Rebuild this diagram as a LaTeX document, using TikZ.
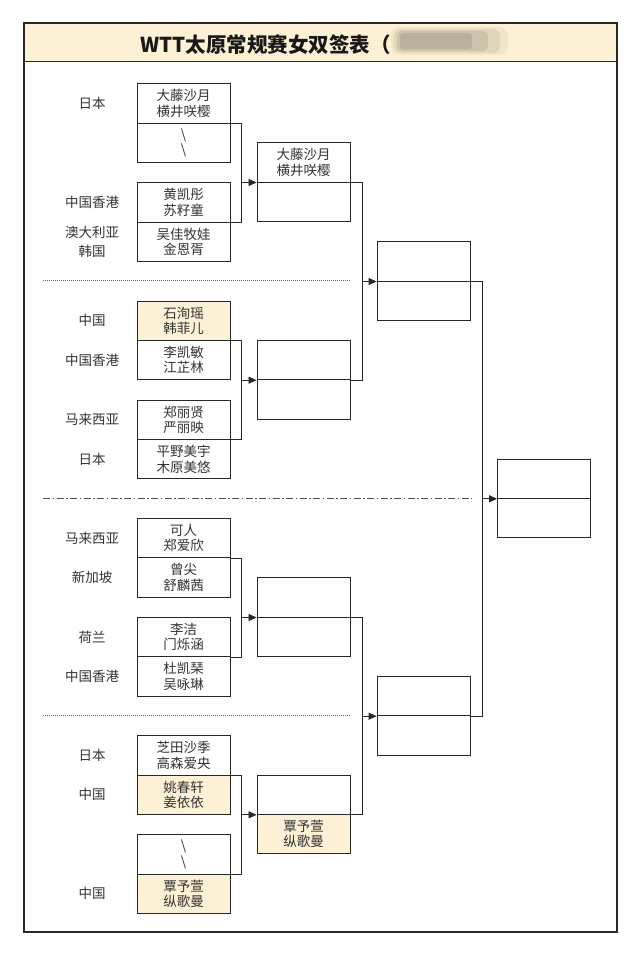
\documentclass[tikz,border=0pt]{standalone}
\usepackage{fontspec}
\newfontfamily\cjk{Noto Sans CJK SC}
\usetikzlibrary{arrows.meta}
\definecolor{cream}{RGB}{252,241,212}
\definecolor{linec}{RGB}{40,40,40}
\definecolor{textc}{RGB}{51,51,51}
\definecolor{titlec}{RGB}{25,25,25}
\definecolor{blurc}{RGB}{140,135,120}
\begin{document}
\begin{tikzpicture}[x=1pt,y=-1pt,
  half/.style={draw=linec, line width=0.8pt, minimum width=93pt, minimum height=39.4pt,
    inner sep=0pt, anchor=north, align=center, text=textc,
    font=\cjk\fontsize{13.5}{15.5}\selectfont},
  seed/.style={half, fill=cream},
  lab/.style={align=center, text=textc, inner sep=0pt, font=\cjk\fontsize{13.5}{19}\selectfont},
  conn/.style={draw=linec, line width=0.8pt},
  arr/.style={conn, -{Triangle[length=8pt,width=7pt]}},
  sep/.style={draw=linec!70, line width=0.6pt, dash pattern=on 1pt off 1pt},
  sepdd/.style={draw=linec!80, line width=0.6pt, dash pattern=on 7pt off 2.5pt on 1.5pt off 2.5pt}]
\useasboundingbox (0,0) rectangle (640,957);
\fill[white] (0,0) rectangle (640,957);
% title band
\fill[cream] (24,23) rectangle (617,62);
\draw[linec, line width=1pt] (24,62) -- (617,62);
\node[anchor=west, inner sep=0pt, text=titlec, font=\cjk\bfseries\fontsize{20.5}{24}\selectfont] (title) at (140,44.5) {WTT太原常规赛女双签表（};
\fill[blurc, opacity=0.10, rounded corners=9pt] (391,27) rectangle (508,55);
\fill[blurc, opacity=0.16, rounded corners=7pt] (394,29) rectangle (500,53);
\fill[blurc, opacity=0.24, rounded corners=5pt] (397,31) rectangle (488,51);
\fill[blurc, opacity=0.30, rounded corners=3pt] (400,33) rectangle (472,49);
% frame
\draw[linec, line width=1.6pt] (24,23) rectangle (617,932);
% separators
\draw[sep] (43,280.7) -- (351,280.7);
\draw[sepdd] (43,498) -- (472,498);
\draw[sep] (43,715.5) -- (351,715.5);
% vertical lanes
\coordinate (v1) at (241,0);
\coordinate (v2) at (362,0);
\coordinate (v3) at (482,0);
% ---------- round 1 ----------
% section 1
\node[half] (s1at) at (183.5,83.3) {大藤沙月\\横井咲樱};
\node[half] (s1ab) at (183.5,122.7) {\textbackslash\\\textbackslash};
\node[half] (s1bt) at (183.5,182.3) {黄凯彤\\苏籽童};
\node[half] (s1bb) at (183.5,221.7) {吴佳牧娃\\金恩胥};
% section 2
\node[seed] (s2at) at (183.5,300.6) {石洵瑶\\韩菲儿};
\node[half] (s2ab) at (183.5,340) {李凯敏\\江芷林};
\node[half] (s2bt) at (183.5,399.6) {郑丽贤\\严丽映};
\node[half] (s2bb) at (183.5,439) {平野美宇\\木原美悠};
% section 3
\node[half] (s3at) at (183.5,517.9) {可人\\郑爱欣};
\node[half] (s3ab) at (183.5,557.3) {曾尖\\舒麟茜};
\node[half] (s3bt) at (183.5,616.9) {李洁\\门烁涵};
\node[half] (s3bb) at (183.5,656.3) {杜凯琹\\吴咏琳};
% section 4
\node[half] (s4at) at (183.5,735.2) {芝田沙季\\高森爱央};
\node[seed] (s4ab) at (183.5,774.6) {姚春轩\\姜依依};
\node[half] (s4bt) at (183.5,834.2) {\textbackslash\\\textbackslash};
\node[seed] (s4bb) at (183.5,873.6) {覃予萱\\纵歌曼};
% labels
\node[lab] (l1) at (92,103) {日本};
\node[lab] (l2) at (92,202) {中国香港};
\node[lab] (l3) at (92,242) {澳大利亚\\韩国};
\node[lab] (l4) at (92,320.5) {中国};
\node[lab] (l5) at (92,360) {中国香港};
\node[lab] (l6) at (92,419.5) {马来西亚};
\node[lab] (l7) at (92,459) {日本};
\node[lab] (l8) at (92,538) {马来西亚};
\node[lab] (l9) at (92,577.5) {新加坡};
\node[lab] (l10) at (92,637) {荷兰};
\node[lab] (l11) at (92,676.5) {中国香港};
\node[lab] (l12) at (92,755.5) {日本};
\node[lab] (l13) at (92,794.5) {中国};
\node[lab] (l14) at (92,893.5) {中国};
% ---------- round 2 ----------
\node[half, minimum width=93.5pt] (r2at) at (303.7,142.3) {大藤沙月\\横井咲樱};
\node[half, minimum width=93.5pt] (r2ab) at (303.7,181.7) {};
\node[half, minimum width=93.5pt] (r2bt) at (303.7,340) {};
\node[half, minimum width=93.5pt] (r2bb) at (303.7,379.4) {};
\node[half, minimum width=93.5pt] (r2ct) at (303.7,577.3) {};
\node[half, minimum width=93.5pt] (r2cb) at (303.7,616.7) {};
\node[half, minimum width=93.5pt] (r2dt) at (303.7,774.6) {};
\node[seed, minimum width=93.5pt] (r2db) at (303.7,814) {覃予萱\\纵歌曼};
% ---------- round 3 ----------
\node[half] (r3at) at (423.5,241.3) {};
\node[half] (r3ab) at (423.5,280.7) {};
\node[half] (r3bt) at (423.5,676) {};
\node[half] (r3bb) at (423.5,715.4) {};
% ---------- final ----------
\node[half] (fint) at (544,458.6) {};
\node[half] (finb) at (544,498) {};
% ---------- connectors ----------
\draw[conn] (s1at.south east) -- (s1at.south east -| v1) -- (s1bt.south east -| v1) -- (s1bt.south east);
\draw[arr] (r2at.south west -| v1) -- (r2at.south west);
\draw[conn] (s2at.south east) -- (s2at.south east -| v1) -- (s2bt.south east -| v1) -- (s2bt.south east);
\draw[arr] (r2bt.south west -| v1) -- (r2bt.south west);
\draw[conn] (s3at.south east) -- (s3at.south east -| v1) -- (s3bt.south east -| v1) -- (s3bt.south east);
\draw[arr] (r2ct.south west -| v1) -- (r2ct.south west);
\draw[conn] (s4at.south east) -- (s4at.south east -| v1) -- (s4bt.south east -| v1) -- (s4bt.south east);
\draw[arr] (r2dt.south west -| v1) -- (r2dt.south west);
\draw[conn] (r2at.south east) -- (r2at.south east -| v2) -- (r2bt.south east -| v2) -- (r2bt.south east);
\draw[arr] (r3at.south west -| v2) -- (r3at.south west);
\draw[conn] (r2ct.south east) -- (r2ct.south east -| v2) -- (r2dt.south east -| v2) -- (r2dt.south east);
\draw[arr] (r3bt.south west -| v2) -- (r3bt.south west);
\draw[conn] (r3at.south east) -- (r3at.south east -| v3) -- (r3bt.south east -| v3) -- (r3bt.south east);
\draw[arr] (fint.south west -| v3) -- (fint.south west);
\end{tikzpicture}
\end{document}
